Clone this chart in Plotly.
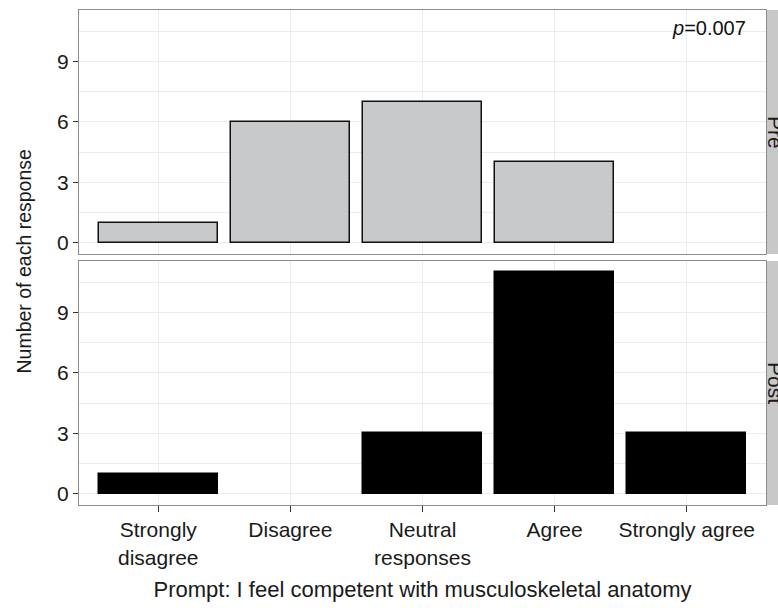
import plotly.graph_objects as go

# Survey responses before and after the course
categories = ["Strongly disagree", "Disagree", "Neutral responses", "Agree", "Strongly agree"]
tick_labels = ["Strongly<br>disagree", "Disagree", "Neutral<br>responses", "Agree", "Strongly agree"]
pre_counts = [1, 6, 7, 4, 0]
post_counts = [1, 0, 3, 11, 3]
panels = ["Pre", "Post"]
p_value_text = "<i>p</i>=0.007"

FONT = "Liberation Sans, Arial, Helvetica, sans-serif"
GRID = "#ebebeb"
BORDER = "#8c8c8c"
STRIP = "#c8c8c8"
TXT = "#1a1a1a"


def nonzero(vals):
    return [v if v else None for v in vals]


fig = go.Figure()
fig.add_trace(go.Bar(
    x=categories, y=nonzero(pre_counts), xaxis="x2", yaxis="y2", width=0.9,
    marker=dict(color="#c8c9cb", line=dict(color="#111111", width=1.5)),
    showlegend=False,
))
fig.add_trace(go.Bar(
    x=categories, y=nonzero(post_counts), xaxis="x", yaxis="y", width=0.9,
    marker=dict(color="#000000", line=dict(color="#000000", width=1.5)),
    showlegend=False,
))

yrange = [-0.55, 11.55]
common_y = dict(
    range=yrange, tickvals=[0, 3, 6, 9], ticks="outside", ticklen=5, tickcolor="#333333",
    tickfont=dict(size=21, color=TXT), showgrid=True, gridcolor=GRID, gridwidth=1.2,
    minor=dict(tickvals=[1.5, 4.5, 7.5, 10.5], showgrid=True, gridcolor=GRID, gridwidth=0.6, ticks=""),
    zeroline=False, showline=True, mirror=True, linecolor=BORDER, linewidth=1,
)
common_x = dict(
    range=[-0.6, 4.6], categoryorder="array", categoryarray=categories,
    showgrid=True, gridcolor=GRID, gridwidth=1.2, zeroline=False,
    showline=True, mirror=True, linecolor=BORDER, linewidth=1,
)

h_panel = 244 / 495
fig.update_layout(
    width=778, height=608,
    margin=dict(l=79, r=12, t=10, b=103),
    paper_bgcolor="white", plot_bgcolor="white",
    font=dict(family=FONT, size=21, color=TXT),
    bargap=0,
    xaxis=dict(**common_x, domain=[0, 1], anchor="y", ticks="outside", ticklen=6,
               tickcolor="#333333", tickvals=categories, ticktext=tick_labels,
               tickfont=dict(size=21, color=TXT),
               title=dict(text="Prompt: I feel competent with musculoskeletal anatomy",
                          font=dict(size=22, color=TXT), standoff=14)),
    xaxis2=dict(**common_x, domain=[0, 1], anchor="y2", showticklabels=False, ticks=""),
    yaxis=dict(**common_y, domain=[0, h_panel], anchor="x"),
    yaxis2=dict(**common_y, domain=[1 - h_panel, 1], anchor="x2"),
)

# Facet strips on the right-hand side
strip_x0 = 1 + 1 / 687
for lab, (y0, y1) in zip(panels, [(1 - h_panel, 1), (0, h_panel)]):
    fig.add_shape(type="rect", xref="paper", yref="paper", x0=strip_x0, x1=1.05,
                  y0=y0, y1=y1, fillcolor=STRIP, line=dict(width=0), layer="below")
    fig.add_annotation(text=lab, xref="paper", yref="paper", x=1.0 + 10 / 687, y=(y0 + y1) / 2,
                       textangle=90, showarrow=False, font=dict(size=21, color=TXT),
                       xanchor="center", yanchor="middle")

fig.add_annotation(text="Number of each response", xref="paper", yref="paper",
                   x=-56 / 687, y=0.5 - 4 / 495, textangle=-90, showarrow=False,
                   font=dict(size=19.5, color=TXT), xanchor="center", yanchor="middle")

fig.add_annotation(text=p_value_text, xref="paper", yref="paper",
                   x=(748 - 79) / 687, y=1 - 18 / 495, showarrow=False,
                   xanchor="right", yanchor="middle", font=dict(size=20, color="#111111"))

fig.write_html("out.html")
